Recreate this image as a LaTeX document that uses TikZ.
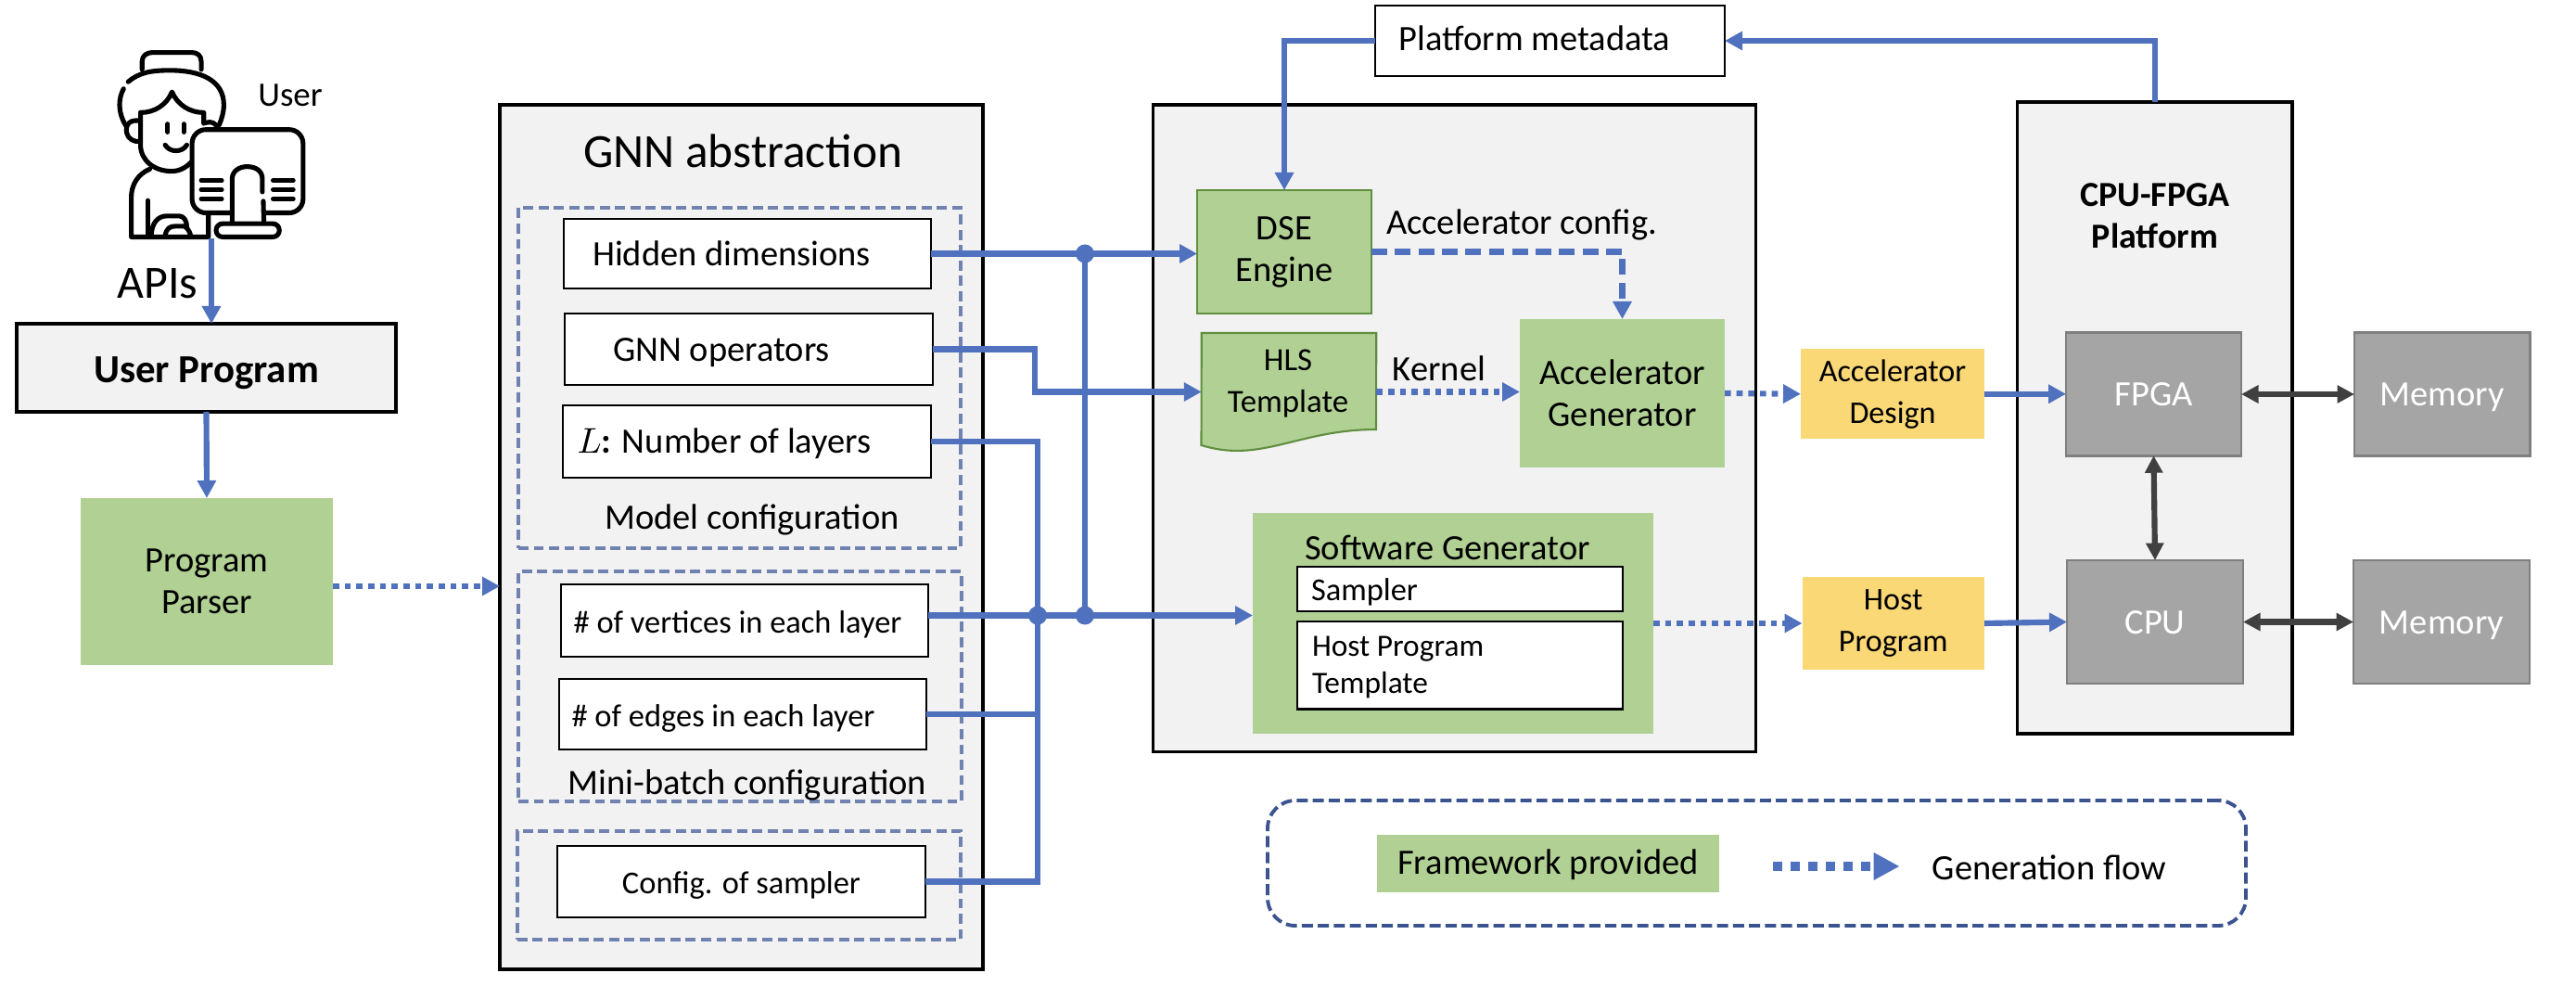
\documentclass[tikz,border=0pt]{standalone}
\usepackage{fontspec}
\setmainfont{Carlito}
\usetikzlibrary{arrows.meta}
\definecolor{wire blue}{HTML}{4F71BE}
\definecolor{frame gray}{HTML}{F2F2F2}
\definecolor{fw green}{HTML}{B1D194}
\definecolor{fw edge}{HTML}{5F8F3F}
\definecolor{out yellow}{HTML}{FAD876}
\definecolor{hw gray}{HTML}{A5A5A5}
\definecolor{hw edge}{HTML}{7F7F7F}
\definecolor{link dark}{HTML}{404040}
\definecolor{cfg dash}{HTML}{7082B0}
\definecolor{legend dash}{HTML}{3B5490}
\newcommand{\fsize}[1]{\fontsize{#1pt}{12.8pt}\selectfont}
\tikzset{
	every node/.style={inner sep=0pt, outer sep=0pt, font=\fsize{10.95}, align=center},
	oneline/.style={text height=#1, text depth=0pt},
	oneline/.default=.26cm,
	frame/.style={draw=black, line width=.9pt, fill=frame gray},
	field/.style={draw=black, line width=.7pt, fill=white, oneline},
	cfggroup/.style={draw=cfg dash, line width=1.2pt, dash pattern=on 3.1pt off 1.6pt},
	fwbox/.style={fill=fw green},
	outbox/.style={fill=out yellow, font=\fsize{9.7}},
	hwbox/.style={draw=hw edge, line width=.8pt, fill=hw gray, text=white, oneline},
	wire/.style={draw=wire blue, line width=1.75pt},
	wirearrow/.style={wire, -{Triangle[length=1.9mm,width=1.95mm]}},
	dotflow/.style={wirearrow, dash pattern=on 1.9pt off 1.7pt},
	dashflow/.style={wirearrow, dash pattern=on 4.8pt off 2.4pt},
	hwlink/.style={draw=link dark, line width=1.75pt, {Triangle[length=1.85mm,width=1.85mm]}-{Triangle[length=1.85mm,width=1.85mm]}},
	icon/.style={line width=1.45pt, line cap=round, line join=round}
}
\begin{document}
\begin{tikzpicture}
	\useasboundingbox (0,0) rectangle (27.78,10.62);
	% user icon
	\begin{scope}[shift={(1,10.52)}, x=.003333cm, y=-.003333cm, icon]
		\draw (160,195) -- (160,170) .. controls (160,150) and (175,140) .. (195,140) -- (320,140) .. controls (340,140) and (352,150) .. (352,170) -- (352,195);
		\draw (115,235) .. controls (150,205) and (190,198) .. (250,198) .. controls (350,198) and (425,230) .. (425,310) .. controls (425,335) and (418,355) .. (410,375);
		\draw (100,258) .. controls (85,285) and (78,330) .. (108,378);
		\draw (155,362) .. controls (120,355) and (105,375) .. (110,400) .. controls (113,420) and (135,432) .. (155,428);
		\draw (155,335) -- (155,440) .. controls (155,490) and (200,525) .. (255,525) .. controls (285,525) and (305,510) .. (320,495);
		\draw (155,335) .. controls (200,335) and (240,310) .. (257,268) .. controls (275,310) and (315,335) .. (360,335) -- (360,370);
		\draw (365,368) .. controls (385,362) and (398,368) .. (405,385);
		\draw (243,372) -- (243,398) (295,372) -- (295,398);
		\draw (235,440) .. controls (250,465) and (290,465) .. (305,440);
		\draw (185,518) .. controls (145,535) and (125,570) .. (125,610) -- (125,738) -- (375,738) -- (375,665);
		\draw (178,620) -- (178,735);
		\draw (190,735) .. controls (190,695) and (210,670) .. (240,670) -- (280,670) .. controls (295,670) and (305,685) .. (305,705);
		\draw (235,735) .. controls (238,710) and (250,703) .. (270,703) -- (295,703) .. controls (305,705) and (315,720) .. (318,735);
		\draw[fill=white, rounded corners=.15cm] (322,390) rectangle (682,660);
		\fill[white] (455,650) rectangle (550,690);
		\draw (452,690) -- (452,550) .. controls (452,525) and (475,510) .. (500,510) .. controls (530,510) and (550,525) .. (550,550) -- (550,592);
		\draw (553,622) -- (555,690);
		\draw[fill=white, rounded corners=.07cm] (400,695) rectangle (605,738);
		\foreach \ly in {555,585,615} {
			\draw (352,\ly) -- (418,\ly) (585,\ly) -- (650,\ly);
		}
	\end{scope}
	\coordinate (usericon) at (2.28,8.05);
	\node[font=\fsize{10.5}] (userlabel) at (3.13,9.59) {User};
	\node[font=\fsize{14.2}] (apilabel) at (1.70,7.56) {APIs};
	% user program and parser
	\node[frame, oneline=.33cm, minimum width=4.09cm, minimum height=.95cm, font=\fsize{12.2}\bfseries] (usrprog) at (2.225,6.655) {User Program};
	\node[fwbox, minimum width=2.72cm, minimum height=1.8cm] (parser) at (2.23,4.35) {Program\\Parser};
	% GNN abstraction
	\node[frame, minimum width=5.21cm, minimum height=9.32cm] (gnn) at (7.995,4.83) {};
	\node[font=\fsize{14.6}] (gnntitle) at (8.01,8.99) {GNN abstraction};
	\node[cfggroup, minimum width=4.77cm, minimum height=3.67cm] (modelcfg) at (7.975,6.545) {};
	\node[cfggroup, minimum width=4.78cm, minimum height=2.48cm] (minicfg) at (7.98,3.22) {};
	\node[cfggroup, minimum width=4.785cm, minimum height=1.17cm] (samplecfg) at (7.97,1.075) {};
	\node[field, minimum width=3.965cm, minimum height=.75cm] (hidden) at (8.06,7.885) {Hidden dimensions\hspace*{.34cm}};
	\node[field, minimum width=3.97cm, minimum height=.77cm] (gnnops) at (8.075,6.855) {GNN operators\hspace*{.59cm}};
	\node[field, minimum width=3.97cm, minimum height=.775cm] (layers) at (8.055,5.86) {$L$\textbf{:} Number of layers\hspace*{.49cm}};
	\node (modellabel) at (8.11,5.02) {Model configuration};
	\node[field, minimum width=3.96cm, minimum height=.776cm, font=\fsize{9.8}] (vertices) at (8.03,3.93) {\# of vertices in each layer\hspace*{.15cm}};
	\node[field, minimum width=3.965cm, minimum height=.765cm, font=\fsize{9.8}] (edges) at (8.01,2.92) {\# of edges in each layer\hspace*{.42cm}};
	\node (minilabel) at (8.06,2.16) {Mini-batch configuration};
	\node[field, minimum width=3.97cm, minimum height=.77cm, font=\fsize{9.8}] (cfgsamp) at (7.995,1.115) {Config. of sampler};
	% generator frame
	\node[field, oneline=.22cm, minimum width=3.77cm, minimum height=.755cm] (meta) at (16.715,10.18) {Platform metadata\hspace*{.33cm}};
	\node[frame, minimum width=6.5cm, minimum height=6.975cm] (gen) at (15.685,6.0025) {};
	\node[fwbox, draw=fw edge, line width=.6pt, minimum width=1.88cm, minimum height=1.33cm] (dse) at (13.85,7.905) {DSE\\Engine};
	\node (cfglabel) at (16.41,8.20) {Accelerator config.};
	% HLS template with its wavy edge
	\node[minimum width=1.885cm, minimum height=1.27cm] (hls) at (13.90,6.395) {};
	\draw[fill=fw green, draw=fw edge, line width=.6pt] (hls.north west) -- (hls.north east) -- (14.84,5.99) .. controls (14.0,5.99) and (13.6,5.62) .. (12.955,5.82) -- cycle;
	\node[font=\fsize{9.9}] (hlstext) at (13.89,6.48) {HLS\\Template};
	\node (kernellabel) at (15.52,6.65) {Kernel};
	\node[fwbox, minimum width=2.21cm, minimum height=1.6cm] (accgen) at (17.495,6.38) {Accelerator\\Generator};
	\node[fwbox, minimum width=4.32cm, minimum height=2.38cm] (swgen) at (15.67,3.90) {};
	\node (swlabel) at (15.61,4.72) {Software Generator};
	\node[field, oneline=.24cm, text width=3.21cm, inner xsep=.15cm, align=left, minimum height=.48cm, font=\fsize{9.8}] (sampler) at (15.745,4.27) {Sampler};
	\node[draw=black, line width=.7pt, fill=white, minimum width=3.51cm, minimum height=.945cm] (hosttpl) at (15.745,3.4475) {};
	\node[anchor=west, align=left, font=\fontsize{9.5pt}{11.5pt}\selectfont] (hosttext) at ([xshift=.16cm,yshift=-.02cm]hosttpl.west) {Host Program\\Template};
	\node[outbox, minimum width=1.98cm, minimum height=.975cm] (accdes) at (20.41,6.3725) {Accelerator\\Design};
	\node[outbox, minimum width=1.965cm, minimum height=1cm] (hostprog) at (20.4175,3.90) {Host\\Program};
	% platform
	\node[frame, minimum width=2.965cm, minimum height=6.81cm] (platform) at (23.2375,6.115) {};
	\node[font=\fsize{10.8}\bfseries] (platlabel) at (23.24,8.29) {CPU-FPGA\\Platform};
	\node[hwbox, minimum width=1.89cm, minimum height=1.325cm] (fpga) at (23.225,6.37) {FPGA};
	\node[hwbox, minimum width=1.9cm, minimum height=1.33cm] (cpu) at (23.24,3.915) {CPU};
	\node[hwbox, minimum width=1.895cm, minimum height=1.325cm] (memf) at (26.3375,6.37) {Memory};
	\node[hwbox, minimum width=1.9cm, minimum height=1.33cm] (memc) at (26.33,3.915) {Memory};
	% legend
	\node[draw=legend dash, line width=1.1pt, dash pattern=on 3.4pt off 1.5pt, rounded corners=.3cm, minimum width=10.55cm, minimum height=1.35cm] (legend) at (18.945,1.315) {};
	\node[fwbox, oneline=.22cm, minimum width=3.69cm, minimum height=.62cm] (fwkey) at (16.695,1.31) {Framework provided};
	\node (flowkey) at (22.10,1.27) {Generation flow};
	\coordinate (flowa) at (19.12,1.28);
	\coordinate (flowb) at (20.485,1.28);
	% junctions
	\coordinate (jdse) at (11.70,7.885);
	\coordinate (jhost) at (11.70,3.985);
	\coordinate (jleft) at (11.19,3.985);
	\coordinate (hlsin) at (11.16,6.395);
	% connectors
	\draw[wirearrow] (usericon) -- (usericon |- usrprog.north);
	\draw[wirearrow] (usrprog.south) -- (parser.north);
	\draw[dotflow] ([yshift=-.05cm]parser.east) -- ([yshift=-.05cm]parser.east -| gnn.west);
	\draw[wirearrow] (hidden.east) -- (hidden.east -| dse.west);
	\draw[wirearrow] (gnnops.east) -| (hlsin) -- (hlsin -| hls.west);
	\draw[wire] (layers.east) -| (jleft);
	\draw[wire] (edges.east) -- (edges.east -| jleft);
	\draw[wire] (cfgsamp.east) -| (jleft);
	\draw[wire] (jdse) -- (jhost);
	\draw[wirearrow] (vertices.east |- jleft) -- (jhost -| swgen.west);
	\fill[wire blue] (jdse) circle (.1) (jhost) circle (.1) (jleft) circle (.1);
	\draw[wirearrow] (meta.west) -| (dse.north);
	\draw[wirearrow] (platform.north) |- (meta.east);
	\draw[dashflow] (dse.east) -| (accgen.north);
	\draw[dotflow] (hls.east) -- (hls.east -| accgen.west);
	\draw[dotflow] (accgen.east) -- (accdes.west);
	\draw[dotflow] (swgen.east) -- (hostprog.west);
	\draw[wirearrow] (accdes.east) -- (accdes.east -| fpga.west);
	\draw[wirearrow] (hostprog.east) -- (cpu.west);
	\draw[hwlink] (fpga.south) -- (cpu.north);
	\draw[hwlink] (fpga.east) -- (memf.west);
	\draw[hwlink] (cpu.east) -- (memc.west);
	\draw[wire blue, line width=2.6pt, dash pattern=on 2.9pt off 2.5pt, -{Triangle[length=2.8mm,width=2.8mm]}] (flowa) -- (flowb);
\end{tikzpicture}
\end{document}
